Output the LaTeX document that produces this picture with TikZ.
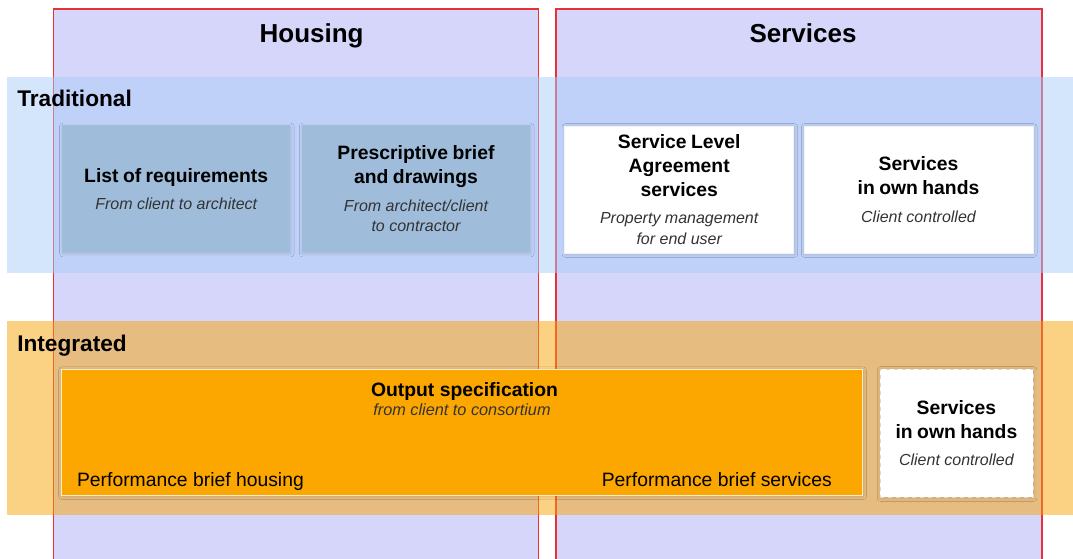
\documentclass[tikz,border=0pt]{standalone}
\usepackage{fontspec}
\setmainfont{Liberation Sans}
\usetikzlibrary{shadows.blur}
\newdimen\unitpx \unitpx=0.75pt
\definecolor{colfill}{RGB}{214,214,250}
\definecolor{colline}{RGB}{232,48,58}
\definecolor{tradband}{RGB}{169,205,247}
\definecolor{intband}{RGB}{247,163,7}
\definecolor{reqblue}{RGB}{159,189,219}
\definecolor{specorange}{RGB}{252,166,0}
\definecolor{specedge}{RGB}{252,236,200}
\newcommand\boxtext[2]{{\bfseries\fontsize{14.5}{18}\selectfont #1\par}\vspace{5pt}{\itshape\color{black!80}\fontsize{12}{15.5}\selectfont #2\par}}
\tikzset{
	column/.style={fill=colfill, draw=colline, line width=1.1pt},
	band/.style={fill opacity=0.5},
	glow/.style={blur shadow={shadow xshift=0.5pt, shadow yshift=-0.8pt, shadow blur radius=2.5pt, shadow blur steps=8, shadow opacity=14}},
	cellbox/.style={glow, inner sep=0pt, minimum height=127\unitpx, align=center},
	headtext/.style={anchor=base, inner sep=0pt, font=\bfseries\fontsize{19.5}{23}\selectfont},
	bandtext/.style={anchor=base west, inner sep=0pt, font=\bfseries\fontsize{17}{20}\selectfont},
	plaintext/.style={inner sep=0pt, font=\fontsize{14.5}{18}\selectfont}
}

\begin{document}
\begin{tikzpicture}[x=0.75pt, y=-0.75pt]
			%%%%% START %%%%%
			\clip (0, 0) rectangle (1073, 559);
			\useasboundingbox (0, 0) rectangle (1073, 559);
			
			% columns
			\draw[column] (53.5, 9) rectangle (538.5, 580);
			\draw[column] (556, 9) rectangle (1042, 580);
			\node[headtext] (housinghead) at (311.6, 42.7) {Housing};
			\node[headtext] (serviceshead) at (803, 42.7) {Services};
			
			% bands
			\fill[band, tradband] (7, 77) rectangle (1080, 273);
			\fill[band, intband] (7, 321) rectangle (1080, 515);
			\node[bandtext] (tradlabel) at (17, 107) {Traditional};
			\node[bandtext] (intlabel) at (17, 351) {Integrated};
			
			% traditional
			\node[cellbox, fill=reqblue, minimum width=228\unitpx, text width=212\unitpx] (list) at (176.2, 189) {\boxtext{List of requirements}{From client to architect}};
			\node[cellbox, fill=reqblue, minimum width=228\unitpx, text width=212\unitpx] (brief) at (416, 189) {\boxtext{Prescriptive brief\\and drawings}{From architect/client\\to contractor}};
			\node[cellbox, fill=white, draw=black!5, minimum width=229\unitpx, text width=212\unitpx] (sla) at (679.2, 189.5) {\boxtext{Service Level\\Agreement\\services}{Property management\\for end user}};
			\node[cellbox, fill=white, draw=black!5, minimum width=229\unitpx, text width=212\unitpx] (ownhands) at (918.5, 189.5) {\boxtext{Services\\in own hands}{Client controlled}};
			
			% integrated
			\node[cellbox, fill=specorange, draw=specedge, line width=1pt, minimum width=801\unitpx, minimum height=126\unitpx] (outspec) at (461.9, 432.2) {};
			\node[anchor=base, inner sep=0pt, font=\bfseries\fontsize{14.5}{18}\selectfont] (outtitle) at (464.5, 396.7) {Output specification};
			\node[anchor=base, inner sep=0pt, font=\itshape\fontsize{12.2}{15}\selectfont, text=black!80] (outsub) at (462, 415) {from client to consortium};
			\node[plaintext, anchor=base west] (perfhousing) at (76.8, 486) {Performance brief housing};
			\node[plaintext, anchor=base east] (perfservices) at (832, 486) {Performance brief services};
			\node[cellbox, fill=white, draw=black!15, dashed, minimum width=153\unitpx, minimum height=128\unitpx, text width=145\unitpx] (ownhandsint) at (956.4, 432.9) {\boxtext{Services\\in own hands}{Client controlled}};
			
			%%%%% END %%%%%
\end{tikzpicture}
\end{document}
